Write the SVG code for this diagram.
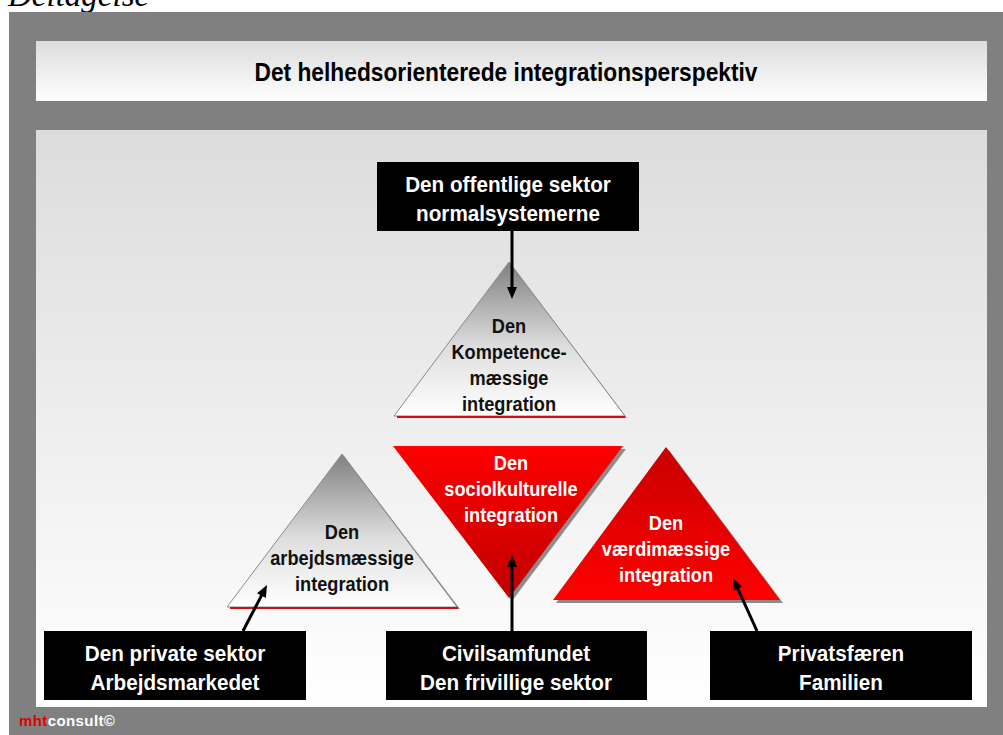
<svg xmlns="http://www.w3.org/2000/svg" width="1003" height="735" viewBox="0 0 1003 735">
<defs>
<linearGradient id="gTitle" x1="0" y1="0" x2="0" y2="1"><stop offset="0" stop-color="#dcdcdc"/><stop offset="1" stop-color="#ffffff"/></linearGradient>
<linearGradient id="gPanel" x1="0" y1="0" x2="0" y2="1"><stop offset="0" stop-color="#dcdcdc"/><stop offset="1" stop-color="#ffffff"/></linearGradient>
<linearGradient id="gGray" x1="0" y1="0" x2="0" y2="1"><stop offset="0" stop-color="#808080"/><stop offset="0.55" stop-color="#dedede"/><stop offset="1" stop-color="#ffffff"/></linearGradient>
<linearGradient id="gRedDown" x1="0" y1="0" x2="0" y2="1"><stop offset="0" stop-color="#ff0000"/><stop offset="1" stop-color="#c00000"/></linearGradient>
<linearGradient id="gRedUp" x1="0" y1="0" x2="0" y2="1"><stop offset="0" stop-color="#c80000"/><stop offset="1" stop-color="#ff0000"/></linearGradient>
<marker id="arr" viewBox="0 0 12 10" refX="4" refY="5" markerWidth="12" markerHeight="10" orient="auto" markerUnits="userSpaceOnUse">
<path d="M0,0 L12,5 L0,10 z" fill="#000"/>
</marker>
</defs>
<style>
.box{fill:#000}
.bt{font-family:"Liberation Sans",Arial,sans-serif;font-weight:bold;font-size:22px;fill:#fff;text-anchor:middle}
.tt{font-family:"Liberation Sans",Arial,sans-serif;font-weight:bold;font-size:20px;text-anchor:middle}
.dk{fill:#111}
.wt{fill:#fff}
.sh{fill:#8c8c8c}
.edge{stroke:#8a8a8a;stroke-width:1}
.base{stroke:#d01010;stroke-width:2}
.con{stroke:#000;stroke-width:3;fill:none}
</style>
<rect x="0" y="0" width="1003" height="735" fill="#ffffff"/>
<text x="8" y="6" font-family="Liberation Serif,serif" font-style="italic" font-size="33" fill="#000">Deltagelse</text>
<rect x="9" y="12" width="994" height="723" fill="#808080"/>
<rect x="36" y="41" width="951" height="60" fill="url(#gTitle)"/>
<g transform="translate(506,0) scale(0.91,1)">
<text x="0" y="81" font-family="Liberation Sans,Arial,sans-serif" font-weight="bold" font-size="25" text-anchor="middle" fill="#000">Det helhedsorienterede integrationsperspektiv</text>
</g>
<rect x="36" y="130" width="951" height="577" fill="url(#gPanel)"/>

<g id="tri-kompetence">
<polygon points="511,264 627,418 397,418" class="sh"/>
<polygon points="509,262 625,416 394,416" fill="url(#gGray)" class="edge"/>
<line x1="397" y1="417" x2="625" y2="417" class="base"/>
<text class="tt dk" transform="translate(509,0) scale(0.91,1)"><tspan x="0" y="333">Den</tspan><tspan x="0" y="359">Kompetence-</tspan><tspan x="0" y="385">mæssige</tspan><tspan x="0" y="411">integration</tspan></text>
</g>

<g id="tri-arbejds">
<polygon points="344,456 460,609 230,609" class="sh"/>
<polygon points="342,454 457,607 227,607" fill="url(#gGray)" class="edge"/>
<line x1="230" y1="608" x2="458" y2="608" class="base"/>
<text class="tt dk" transform="translate(342,0) scale(0.91,1)"><tspan x="0" y="539">Den</tspan><tspan x="0" y="565">arbejdsmæssige</tspan><tspan x="0" y="591">integration</tspan></text>
</g>

<g id="tri-sociokultur">
<polygon points="396,449 626,449 512,601" class="sh"/>
<polygon points="393,446 623,446 509,598" fill="url(#gRedDown)"/>
<text class="tt wt" transform="translate(511,0) scale(0.91,1)"><tspan x="0" y="470">Den</tspan><tspan x="0" y="496">sociolkulturelle</tspan><tspan x="0" y="522">integration</tspan></text>
</g>

<g id="tri-vaerdi">
<polygon points="669,450 783,603 556,603" class="sh"/>
<polygon points="666,447 780,600 553,600" fill="url(#gRedUp)"/>
<text class="tt wt" transform="translate(666,0) scale(0.91,1)"><tspan x="0" y="530">Den</tspan><tspan x="0" y="556">værdimæssige</tspan><tspan x="0" y="582">integration</tspan></text>
</g>

<g id="box-offentlig">
<rect x="377" y="162" width="262" height="69" class="box"/>
<text class="bt" transform="translate(508,0) scale(0.94,1)"><tspan x="0" y="192">Den offentlige sektor</tspan><tspan x="0" y="221">normalsystemerne</tspan></text>
</g>
<g id="box-privat">
<rect x="44" y="631" width="262" height="69" class="box"/>
<text class="bt" transform="translate(175,0) scale(0.94,1)"><tspan x="0" y="661">Den private sektor</tspan><tspan x="0" y="690">Arbejdsmarkedet</tspan></text>
</g>
<g id="box-civil">
<rect x="386" y="631" width="261" height="69" class="box"/>
<text class="bt" transform="translate(516,0) scale(0.94,1)"><tspan x="0" y="661">Civilsamfundet</tspan><tspan x="0" y="690">Den frivillige sektor</tspan></text>
</g>
<g id="box-privatsfaere">
<rect x="710" y="631" width="262" height="69" class="box"/>
<text class="bt" transform="translate(841,0) scale(0.94,1)"><tspan x="0" y="661">Privatsfæren</tspan><tspan x="0" y="690">Familien</tspan></text>
</g>

<g id="connectors">
<line x1="512" y1="231" x2="512" y2="291" class="con" marker-end="url(#arr)"/>
<line x1="512" y1="631" x2="512" y2="563" class="con" marker-end="url(#arr)"/>
<line x1="243" y1="631" x2="263.3" y2="592.1" class="con" marker-end="url(#arr)"/>
<line x1="757" y1="631" x2="736.3" y2="585.3" class="con" marker-end="url(#arr)"/>
</g>

<text x="19" y="726" font-family="Liberation Sans,Arial,sans-serif" font-weight="bold" font-size="15" letter-spacing="0.4"><tspan fill="#e00000">mht</tspan><tspan fill="#ffffff">consult©</tspan></text>
</svg>
